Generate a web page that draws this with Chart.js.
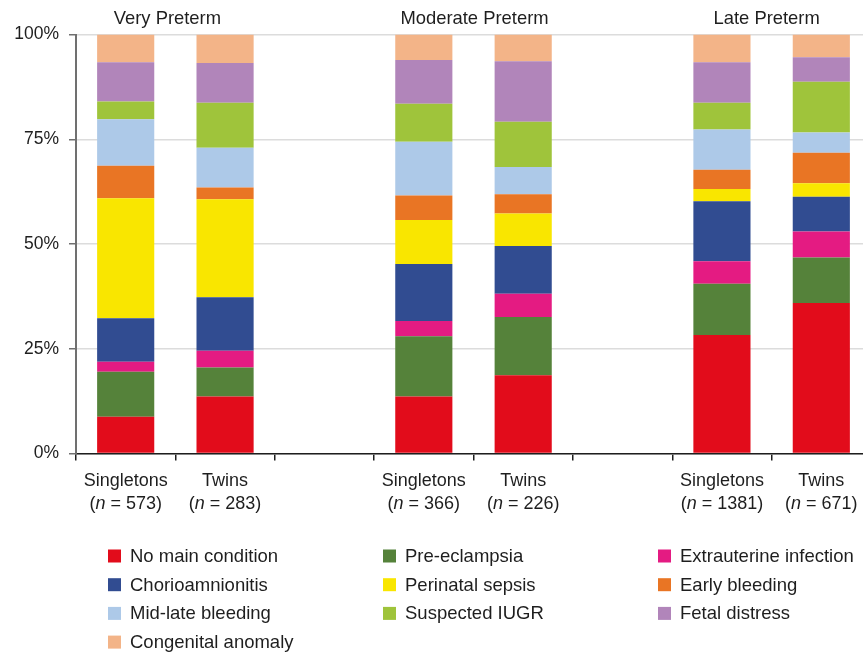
<!DOCTYPE html>
<html>
<head>
<meta charset="utf-8">
<script src="https://cdn.jsdelivr.net/npm/chart.js@4.4.1/dist/chart.umd.min.js"></script>
<style>
  html, body { margin: 0; padding: 0; background: #ffffff; overflow: hidden; }
  #wrap { width: 871px; height: 655px; }
</style>
</head>
<body>
<div id="wrap"><canvas id="c" width="871" height="655"></canvas></div>
<script>
// Categories along the x axis (empty slots separate the three gestational groups)
const categories = ['Singletons', 'Twins', '', 'Singletons', 'Twins', '', 'Singletons', 'Twins'];
const sampleSizes = [573, 283, null, 366, 226, null, 1381, 671];
const groups = ['Very Preterm', 'Moderate Preterm', 'Late Preterm'];
const yTicks = [0, 25, 50, 75, 100];

// Share of births (%) by main condition, per category
const noMainCondition     = [8.8, 13.6, null, 13.6, 18.7, null, 28.3, 35.9];
const preEclampsia        = [10.7, 6.9, null, 14.4, 13.9, null, 12.2, 10.9];
const extrauterineInfect  = [2.4, 4.0, null, 3.6, 5.5, null, 5.4, 6.2];
const chorioamnionitis    = [10.4, 12.8, null, 13.6, 11.4, null, 14.3, 8.3];
const perinatalSepsis     = [28.6, 23.4, null, 10.5, 7.8, null, 2.9, 3.2];
const earlyBleeding       = [7.8, 2.8, null, 5.9, 4.6, null, 4.6, 7.3];
const midLateBleeding     = [11.1, 9.5, null, 12.8, 6.5, null, 9.6, 4.8];
const suspectedIUGR       = [4.2, 10.7, null, 9.1, 10.8, null, 6.4, 12.1];
const fetalDistress       = [9.4, 9.5, null, 10.4, 14.4, null, 9.7, 5.9];
const congenitalAnomaly   = [6.6, 6.8, null, 6.1, 6.4, null, 6.6, 5.4];

const seriesNames = ['No main condition', 'Pre-eclampsia', 'Extrauterine infection',
  'Chorioamnionitis', 'Perinatal sepsis', 'Early bleeding',
  'Mid-late bleeding', 'Suspected IUGR', 'Fetal distress', 'Congenital anomaly'];
const seriesValues = [noMainCondition, preEclampsia, extrauterineInfect,
  chorioamnionitis, perinatalSepsis, earlyBleeding,
  midLateBleeding, suspectedIUGR, fetalDistress, congenitalAnomaly];
const seriesColors = ['#e20c1b', '#55823a', '#e41b82', '#314c91', '#f9e600',
  '#e97524', '#adc9e8', '#9fc43b', '#b185ba', '#f3b488'];

const FONT = '"Liberation Sans", Arial, Helvetica, sans-serif';
const TEXT = '#1e1e1e';

// Group headings, two-line category labels and the three-column key
const annotations = {
  id: 'annotations',
  afterDraw(chart) {
    const ctx = chart.ctx;
    const x = chart.scales.x;
    ctx.save();
    ctx.fillStyle = TEXT;
    ctx.textBaseline = 'middle';

    // group headings above each pair of bars
    const nudge = [-8, 1, -5];
    ctx.font = '18.4px ' + FONT;
    ctx.textAlign = 'center';
    groups.forEach((g, k) => {
      const cx = (x.getPixelForValue(k * 3) + x.getPixelForValue(k * 3 + 1)) / 2 + nudge[k];
      ctx.fillText(g, cx, 18.5);
    });

    // category labels with sample size, italic n
    const lf = '18px ' + FONT;
    categories.forEach((lab, i) => {
      if (!lab) return;
      const cx = x.getPixelForValue(i);
      ctx.font = lf;
      ctx.textAlign = 'center';
      ctx.fillText(lab, cx, 481);
      const parts = [['(', false], ['n', true], [' = ' + sampleSizes[i] + ')', false]];
      let total = 0;
      parts.forEach(p => {
        ctx.font = (p[1] ? 'italic ' : '') + lf;
        total += ctx.measureText(p[0]).width;
      });
      let px = cx - total / 2;
      ctx.textAlign = 'left';
      parts.forEach(p => {
        ctx.font = (p[1] ? 'italic ' : '') + lf;
        ctx.fillText(p[0], px, 504);
        px += ctx.measureText(p[0]).width;
      });
    });

    // key: three columns, filled row by row
    const colX = [108, 383, 658];
    const rowY0 = 556, rowStep = 28.7;
    ctx.font = '18.5px ' + FONT;
    ctx.textAlign = 'left';
    chart.data.datasets.forEach((ds, i) => {
      const col = i % 3, row = Math.floor(i / 3);
      const sx = colX[col], sy = rowY0 + row * rowStep;
      ctx.fillStyle = ds.backgroundColor;
      ctx.fillRect(sx, sy - 6.5, 13, 13);
      ctx.fillStyle = TEXT;
      ctx.fillText(ds.label, sx + 22, sy + 1);
    });
    ctx.restore();
  }
};

new Chart(document.getElementById('c'), {
  type: 'bar',
  data: {
    labels: categories,
    datasets: seriesNames.map((name, i) => ({
      label: name,
      data: seriesValues[i],
      backgroundColor: seriesColors[i],
      borderWidth: 0,
      categoryPercentage: 1,
      barPercentage: 0.575
    }))
  },
  options: {
    responsive: false,
    animation: false,
    devicePixelRatio: 1,
    layout: { padding: { top: 34.5, left: 0, right: 0, bottom: 0 } },
    plugins: { legend: { display: false }, tooltip: { enabled: false }, title: { display: false } },
    scales: {
      x: {
        stacked: true,
        offset: true,
        afterFit(scale) { scale.height = 201.5; },
        ticks: { display: false },
        grid: { offset: true, drawOnChartArea: false, drawTicks: true, tickLength: 7, tickColor: '#1e1e1e', lineWidth: 1.5 },
        border: { display: true, color: '#1e1e1e', width: 1.5 }
      },
      y: {
        stacked: true,
        min: 0,
        max: 100,
        afterFit(scale) { scale.width = 76; },
        afterBuildTicks(scale) { scale.ticks = yTicks.map(v => ({ value: v })); },
        ticks: {
          padding: 10,
          color: TEXT,
          font: { family: FONT, size: 17.5 },
          callback: v => v + '%'
        },
        grid: { color: '#dcdcdc', lineWidth: 1.5, drawTicks: true, tickLength: 7, tickColor: '#707070' },
        border: { display: true, color: '#707070', width: 2 }
      }
    }
  },
  plugins: [annotations]
});
</script>
</body>
</html>
